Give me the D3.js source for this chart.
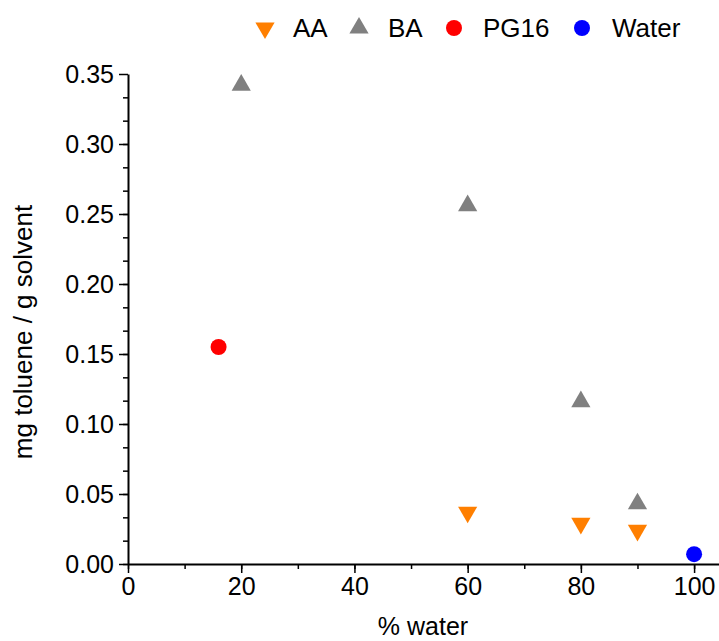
<!DOCTYPE html>
<html>
<head>
<meta charset="utf-8">
<script src="https://cdn.jsdelivr.net/npm/d3@7"></script>
<style>
html,body{margin:0;padding:0;background:#fff;}
svg{display:block;font-family:"Liberation Sans",Arial,sans-serif;}
</style>
</head>
<body>
<svg id="chart" width="719" height="641"></svg>
<script>
const seriesNames = ["AA", "BA", "PG16", "Water"];
const seriesColors = ["#ff7f00", "#808080", "#ff0000", "#0000ff"];
const seriesSymbols = ["down", "up", "circle", "circle"];
const aaX = [60, 80, 90];
const aaY = [0.037, 0.029, 0.024];
const baX = [20, 60, 80, 90];
const baY = [0.342, 0.256, 0.116, 0.043];
const pgX = [16];
const pgY = [0.155];
const waterX = [100];
const waterY = [0.007];
const xTicks = [0, 20, 40, 60, 80, 100];
const yTicks = [0.00, 0.05, 0.10, 0.15, 0.20, 0.25, 0.30, 0.35];

const svg = d3.select("#chart");
const x = d3.scaleLinear().domain([0, 104.4]).range([128, 719]);
const y = d3.scaleLinear().domain([0, 0.35]).range([564, 74]);

const xMinor = d3.range(0, 105, 10);
const yMinor = d3.range(0, 21).map(i => i * 0.35 / 21);

const xAxis = d3.axisBottom(x).tickValues(xTicks).tickFormat(d3.format("d")).tickSize(9).tickSizeOuter(0).tickPadding(4);
const yAxis = d3.axisLeft(y).tickValues(yTicks).tickFormat(d3.format(".2f")).tickSize(9).tickSizeOuter(0).tickPadding(5);

const gxMinor = svg.append("g").attr("transform", "translate(0,564)")
  .call(d3.axisBottom(x).tickValues(xMinor).tickFormat("").tickSize(5).tickSizeOuter(0));
const gyMinor = svg.append("g").attr("transform", "translate(128,0)")
  .call(d3.axisLeft(y).tickValues(yMinor).tickFormat("").tickSize(5).tickSizeOuter(0));
[gxMinor, gyMinor].forEach(g => { g.select(".domain").remove(); g.selectAll("line").attr("stroke", "#000").attr("stroke-width", 1.5); });

const gx = svg.append("g").attr("transform", "translate(0,564)").call(xAxis);
const gy = svg.append("g").attr("transform", "translate(128,0)").call(yAxis);
[gx, gy].forEach(g => {
  g.select(".domain").attr("stroke", "#000").attr("stroke-width", 2);
  g.selectAll(".tick line").attr("stroke", "#000").attr("stroke-width", 1.5);
  g.selectAll(".tick text").attr("fill", "#000").style("font-size", "25px").style("font-family", "Liberation Sans, Arial, sans-serif");
});

svg.append("text").attr("x", 423).attr("y", 635).attr("text-anchor", "middle")
  .style("font-size", "25px").text("% water");
svg.append("text").attr("transform", "translate(32,332) rotate(-90)").attr("text-anchor", "middle")
  .style("font-size", "26px").text("mg toluene / g solvent");

const symUp = d3.symbol().type(d3.symbolTriangle).size(160);
function drawMarker(g, type, color, cx, cy) {
  if (type === "circle") {
    g.append("circle").attr("cx", cx).attr("cy", cy).attr("r", 8).attr("fill", color);
  } else {
    const rot = type === "down" ? 180 : 0;
    g.append("path").attr("d", symUp()).attr("fill", color)
      .attr("transform", `translate(${cx},${cy}) rotate(${rot})`);
  }
}

const data = [[aaX, aaY], [baX, baY], [pgX, pgY], [waterX, waterY]];
const marks = svg.append("g");
data.forEach(([xs, ys], i) => {
  xs.forEach((xv, j) => drawMarker(marks, seriesSymbols[i], seriesColors[i], x(xv), y(ys[j])));
});

const legendPos = [[265, 293], [359, 388], [454, 483], [582, 612]];
const lg = svg.append("g");
seriesNames.forEach((name, i) => {
  drawMarker(lg, seriesSymbols[i], seriesColors[i], legendPos[i][0], 28);
  lg.append("text").attr("x", legendPos[i][1]).attr("y", 37).style("font-size", "26px").text(name);
});
</script>
</body>
</html>
